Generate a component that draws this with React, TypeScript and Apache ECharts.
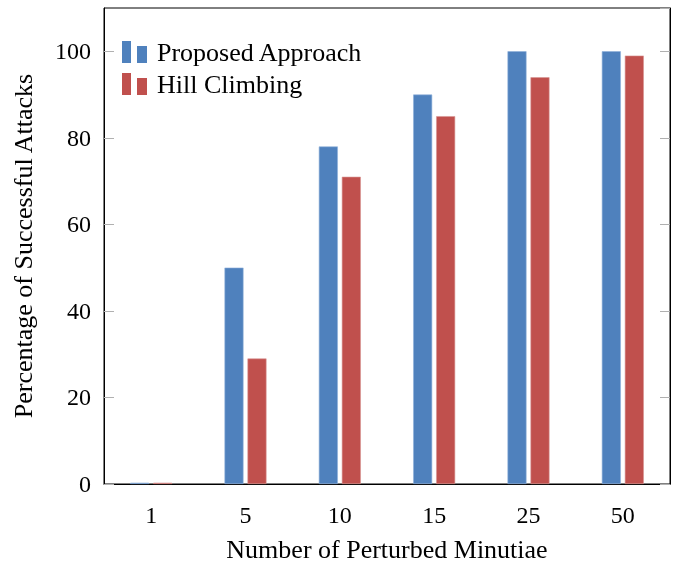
import React, { useEffect, useRef } from "react";
import * as echarts from "echarts";

const categories = ["1", "5", "10", "15", "25", "50"];
const proposedValues = [0.3, 50, 78, 90, 100, 100];
const hillValues = [0.3, 29, 71, 85, 94, 99];
const seriesNames = ["Proposed Approach", "Hill Climbing"];
const xAxisTitle = "Number of Perturbed Minutiae";
const yAxisTitle = "Percentage of Successful Attacks";

const FONT = "'Liberation Serif', 'Times New Roman', serif";
const legendIcon = "path://M0,0h9v22h-9z M15,5h10v17h-10z";

export default function App() {
  const ref = useRef<HTMLDivElement>(null);
  useEffect(() => {
    if (!ref.current) return;
    const chart = echarts.init(ref.current, null, { renderer: "svg" });
    const yCommon = {
      type: "value" as const,
      min: 0,
      max: 110,
      interval: 20,
      splitLine: { show: false },
      axisTick: { show: true, inside: true, length: 10, lineStyle: { color: "#b0b0b0" } },
    };
    chart.setOption({
      animation: false,
      textStyle: { fontFamily: FONT },
      grid: { left: 104, right: 8, top: 8, bottom: 80, show: true, borderColor: "#000", borderWidth: 1 },
      legend: {
        orient: "vertical",
        left: 117,
        top: 34,
        itemWidth: 25,
        itemHeight: 22,
        itemGap: 6,
        icon: legendIcon,
        itemStyle: { borderWidth: 0 },
        textStyle: { fontFamily: FONT, fontSize: 26, color: "#000", padding: [0, 0, 0, 5] },
        data: seriesNames,
      },
      xAxis: {
        type: "category",
        data: categories,
        axisLine: { lineStyle: { color: "#000" } },
        axisTick: { show: false },
        axisLabel: { fontFamily: FONT, fontSize: 24, color: "#000", margin: 19 },
        name: xAxisTitle,
        nameLocation: "middle",
        nameGap: 52,
        nameTextStyle: { fontFamily: FONT, fontSize: 26, color: "#000" },
      },
      yAxis: [
        {
          ...yCommon,
          position: "left",
          axisLine: { show: true, lineStyle: { color: "#000" } },
          axisLabel: { fontFamily: FONT, fontSize: 24, color: "#000", margin: 13, showMaxLabel: false },
          name: yAxisTitle,
          nameLocation: "middle",
          nameGap: 68,
          nameTextStyle: { fontFamily: FONT, fontSize: 26, color: "#000" },
        },
        {
          ...yCommon,
          position: "right",
          axisLine: { show: true, lineStyle: { color: "#000" } },
          axisLabel: { show: false },
        },
      ],
      series: [
        {
          name: seriesNames[0],
          type: "bar",
          data: proposedValues,
          barWidth: 19,
          barGap: "21%",
          itemStyle: { color: "#4F81BD", borderColor: "#8fb0da", borderWidth: 0.6 },
        },
        {
          name: seriesNames[1],
          type: "bar",
          data: hillValues,
          barWidth: 19,
          barGap: "21%",
          itemStyle: { color: "#C0504D", borderColor: "#d89593", borderWidth: 0.6 },
        },
      ],
    });
    return () => chart.dispose();
  }, []);
  return <div ref={ref} style={{ position: "fixed", left: 0, top: 0, width: 678, height: 567 }} />;
}
